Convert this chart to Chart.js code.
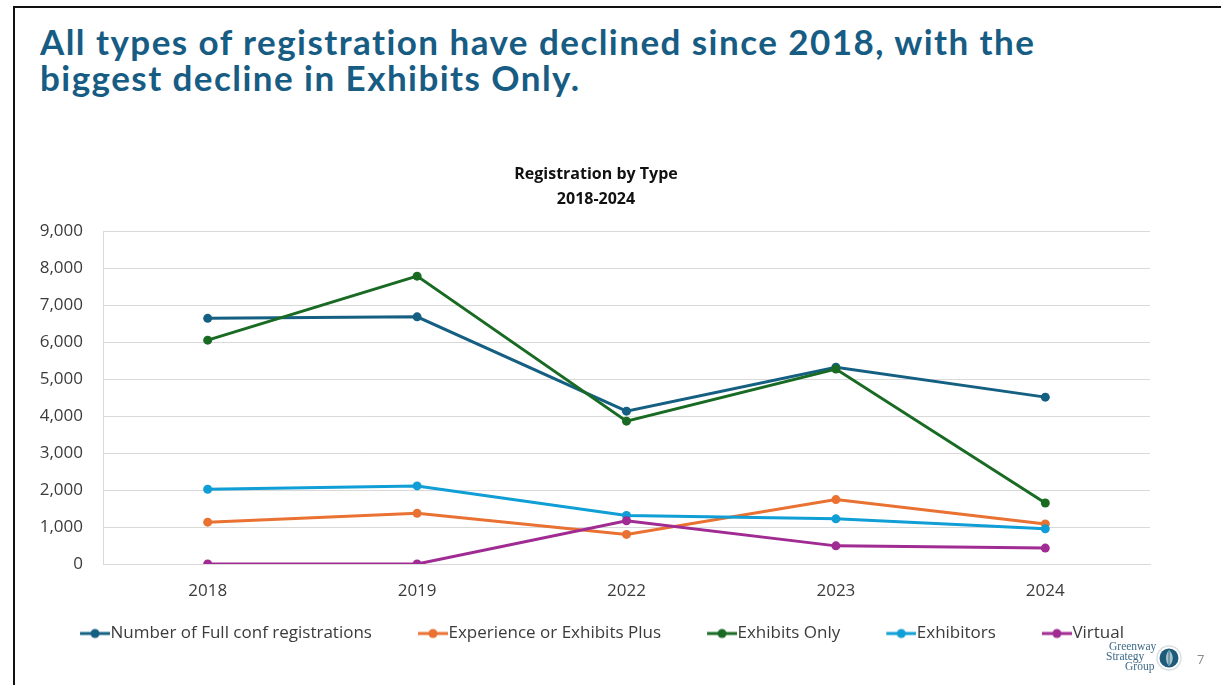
<!DOCTYPE html>
<html>
<head>
<meta charset="utf-8">
<script src="https://cdn.jsdelivr.net/npm/chart.js@4/dist/chart.umd.min.js"></script>
<style>
  html, body { margin: 0; padding: 0; background: #fff; }
  body { width: 1221px; height: 685px; position: relative; overflow: hidden; }
  .frame {
    position: absolute; left: 13px; top: 6px; right: -4px; bottom: -4px;
    border-top: 2px solid #111; border-left: 2px solid #111;
  }
  .headline {
    position: absolute; left: 40px; top: 23px; margin: 0;
    font-family: Lato, "Open Sans", sans-serif; font-weight: 700;
    font-size: 35px; line-height: 36px; letter-spacing: 1.45px; color: #175C83;
    white-space: nowrap;
  }
  .chart-title {
    position: absolute; left: 446px; width: 300px; top: 161px; margin: 0;
    text-align: center; font-family: "Open Sans", sans-serif; font-weight: 700;
    font-size: 16px; line-height: 25px; color: #111;
  }
  #wrap { position: absolute; left: 20px; top: 150px; width: 1160px; height: 505px; }
  .brand { position: absolute; left: 1100px; top: 638px; width: 90px; height: 40px; }
  .pageno {
    position: absolute; left: 1197px; top: 650px;
    font-family: "Open Sans", sans-serif; font-size: 13px; color: #8a8a8a;
  }
</style>
</head>
<body>
<div class="frame"></div>
<h1 class="headline">All types of registration have declined since 2018, with the<br>biggest decline in Exhibits Only.</h1>
<div id="wrap"><canvas id="chart"></canvas></div>
<div class="chart-title">Registration by Type<br>2018-2024</div>
<svg class="brand" width="90" height="40" viewBox="0 0 90 40">
  <g font-family="Liberation Serif, serif" font-size="11.5" fill="#3E6A87">
    <text x="9" y="12">Greenway</text>
    <text x="6" y="22">Strategy</text>
    <text x="25" y="31.5">Group</text>
  </g>
  <circle cx="69" cy="20" r="12" fill="#ffffff" stroke="#d9dfe4" stroke-width="1.5"/>
  <circle cx="69" cy="20" r="9.5" fill="#1D5B7C"/>
  <path d="M69 12 C74 16 74 24 69 28 C65 24 65 16 69 12 Z" fill="#A9C4C9"/>
  <path d="M69 13 L69 27" stroke="#1D5B7C" stroke-width="0.8"/>
</svg>
<div class="pageno">7</div>
<script>
// Registration counts by type, 2018-2024
const years = ['2018', '2019', '2022', '2023', '2024'];
const seriesNames = [
  'Number of Full conf registrations',
  'Experience or Exhibits Plus',
  'Exhibits Only',
  'Exhibitors',
  'Virtual'
];
const fullConf   = [6640, 6680, 4130, 5320, 4510];
const expPlus    = [1130, 1370, 800, 1740, 1080];
const exhibOnly  = [6050, 7780, 3860, 5270, 1650];
const exhibitors = [2020, 2110, 1310, 1220, 950];
const virtual    = [0, 0, 1170, 490, 430];
const seriesColors = ['#156082', '#E97132', '#196B24', '#0F9ED5', '#A02B93'];
const yTicks = { min: 0, max: 9000, step: 1000 };

const seriesValues = [fullConf, expPlus, exhibOnly, exhibitors, virtual];

// Legend swatch: a short line with a dot, right-aligned inside a wider transparent canvas
function swatch(color) {
  const c = document.createElement('canvas');
  c.width = 72; c.height = 12;
  const g = c.getContext('2d');
  g.strokeStyle = color; g.lineWidth = 3;
  g.beginPath(); g.moveTo(42, 6); g.lineTo(72, 6); g.stroke();
  g.fillStyle = color;
  g.beginPath(); g.arc(57, 6, 4.5, 0, Math.PI * 2); g.fill();
  return c;
}

const datasets = seriesNames.map((name, i) => ({
  label: name,
  data: seriesValues[i],
  borderColor: seriesColors[i],
  backgroundColor: seriesColors[i],
  borderWidth: 3,
  pointRadius: 4.5,
  pointHoverRadius: 4.5,
  pointBorderWidth: 0,
  pointStyle: 'circle',
  legendSwatch: swatch(seriesColors[i]),
  tension: 0,
  // later series are painted above earlier ones
  order: seriesNames.length - i
}));

Chart.defaults.font.family = '"Open Sans", sans-serif';
Chart.defaults.color = '#3b3b3b';

new Chart(document.getElementById('chart'), {
  type: 'line',
  data: { labels: years, datasets },
  options: {
    responsive: true,
    maintainAspectRatio: false,
    animation: false,
    layout: { padding: { top: 81, right: 30, bottom: 3, left: 0 } },
    plugins: {
      tooltip: { enabled: false },
      title: { display: false },
      legend: {
        position: 'bottom',
        labels: {
          usePointStyle: true,
          pointStyleWidth: 56,
          padding: 12,
          color: '#3b3b3b',
          font: { size: 17 },
          generateLabels: (chart) => chart.data.datasets.map((d, i) => ({
            text: d.label,
            datasetIndex: i,
            fillStyle: d.borderColor,
            strokeStyle: d.borderColor,
            lineWidth: 0,
            pointStyle: d.legendSwatch,
            fontColor: '#3b3b3b',
            hidden: false
          }))
        }
      }
    },
    scales: {
      x: {
        offset: true,
        grid: { display: false, drawTicks: false },
        border: { display: true, color: '#D9D9D9', width: 1 },
        ticks: { padding: 17, font: { size: 17 }, color: '#3b3b3b' },
        afterFit: (s) => { s.height = 49; }
      },
      y: {
        min: yTicks.min,
        max: yTicks.max,
        grid: { color: '#D9D9D9', lineWidth: 1, drawTicks: false },
        border: { display: true, color: '#D9D9D9', width: 1 },
        ticks: { stepSize: yTicks.step, padding: 20, font: { size: 17 }, color: '#3b3b3b' },
        afterFit: (s) => { s.width = 83; }
      }
    }
  }
});
</script>
</body>
</html>
